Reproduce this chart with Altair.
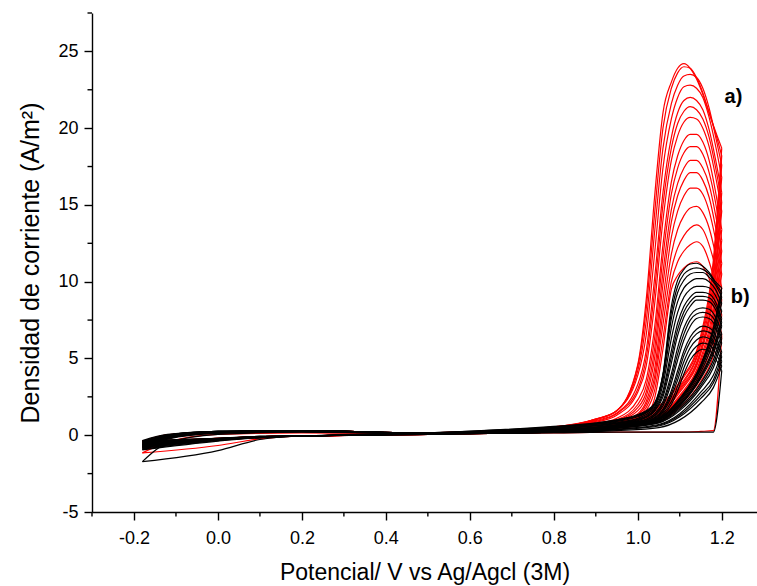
import altair as alt
import pandas as pd

# Potential grid (V vs Ag/AgCl) shared by every cycle: forward scan, then reverse scan
E_FWD = [-0.18, -0.12, 0.0, 0.2, 0.5, 0.8, 0.95, 1.05, 1.1, 1.15, 1.18, 1.2]
E_REV = [1.185, 1.17, 1.155, 1.14, 1.125, 1.11, 1.095, 1.08, 1.06, 1.04, 1.02, 1.0,
         0.95, 0.9, 0.8, 0.5, 0.2, 0.1, 0.0, -0.18]

# Series a) (red) - current density (A/m2), 12 forward values then 20 reverse values
RED_01 = [-1.15, -0.45, 0.05, 0.15, 0.1, 0.15, 0.2, 0.2, 0.2, 0.25, 0.3, 6.5,
          8.6, 10.2, 11.0, 11.3, 11.2, 10.9, 10.4, 9.5, 5.6, 2.4, 1.3, 0.9, 0.55, 0.4, 0.25, 0.05, -0.05, -0.24, -0.67, -1.15]
RED_02 = [-0.8, -0.2, 0.15, 0.2, 0.1, 0.2, 0.45, 0.9, 1.8, 3.5, 5.2, 7.8,
          9.8, 11.3, 12.3, 12.6, 12.4, 12.0, 11.3, 10.0, 6.3, 2.9, 1.6, 1.1, 0.65, 0.45, 0.3, 0.05, -0.05, -0.15, -0.3, -0.8]
RED_03 = [-0.7, -0.15, 0.15, 0.25, 0.1, 0.2, 0.5, 1.0, 2.0, 3.8, 5.8, 8.8,
          10.9, 12.4, 13.4, 13.7, 13.5, 13.0, 12.2, 10.8, 7.2, 3.4, 1.8, 1.2, 0.7, 0.5, 0.3, 0.05, -0.05, -0.15, -0.3, -0.7]
RED_04 = [-0.68, -0.12, 0.15, 0.25, 0.1, 0.2, 0.52, 1.05, 2.1, 4.0, 6.3, 9.6,
          11.8, 13.5, 14.5, 14.9, 14.8, 14.3, 13.4, 11.8, 8.0, 3.8, 2.0, 1.3, 0.75, 0.52, 0.32, 0.06, -0.05, -0.12, -0.3, -0.68]
RED_05 = [-0.65, -0.1, 0.15, 0.25, 0.1, 0.2, 0.55, 1.1, 2.2, 4.2, 6.8, 10.5,
          12.8, 14.6, 15.7, 16.1, 16.1, 15.6, 14.6, 12.9, 8.8, 4.3, 2.2, 1.4, 0.8, 0.55, 0.35, 0.08, -0.05, -0.1, -0.3, -0.65]
RED_06 = [-0.62, -0.1, 0.18, 0.25, 0.1, 0.22, 0.58, 1.15, 2.3, 4.4, 7.2, 11.2,
          13.6, 15.5, 16.6, 17.1, 17.1, 16.6, 15.6, 13.9, 9.8, 5.0, 2.5, 1.6, 0.9, 0.6, 0.38, 0.09, -0.05, -0.1, -0.28, -0.62]
RED_07 = [-0.6, -0.1, 0.2, 0.25, 0.1, 0.25, 0.6, 1.2, 2.4, 4.6, 7.6, 12.0,
          14.4, 16.3, 17.4, 17.9, 17.9, 17.4, 16.4, 14.7, 10.6, 5.6, 2.8, 1.8, 0.95, 0.65, 0.4, 0.1, -0.05, -0.1, -0.28, -0.6]
RED_08 = [-0.58, -0.08, 0.2, 0.28, 0.1, 0.25, 0.62, 1.25, 2.5, 4.8, 8.0, 12.7,
          15.2, 17.1, 18.3, 18.8, 18.8, 18.4, 17.4, 15.7, 11.6, 6.3, 3.2, 2.0, 1.0, 0.7, 0.42, 0.1, -0.05, -0.1, -0.26, -0.58]
RED_09 = [-0.55, -0.05, 0.2, 0.3, 0.1, 0.25, 0.65, 1.3, 2.6, 5.0, 8.4, 13.4,
          15.9, 17.9, 19.1, 19.6, 19.6, 19.2, 18.2, 16.5, 12.4, 7.0, 3.6, 2.3, 1.1, 0.75, 0.45, 0.1, -0.05, -0.1, -0.25, -0.55]
RED_10 = [-0.5, -0.05, 0.2, 0.3, 0.12, 0.25, 0.7, 1.4, 2.8, 5.3, 9.0, 14.6,
          16.9, 18.8, 20.0, 20.6, 20.7, 20.4, 19.5, 17.9, 14.0, 8.5, 4.5, 2.8, 1.3, 0.85, 0.5, 0.12, -0.05, -0.1, -0.25, -0.5]
RED_11 = [-0.5, -0.02, 0.2, 0.3, 0.12, 0.28, 0.72, 1.45, 2.9, 5.45, 9.3, 15.2,
          17.5, 19.4, 20.6, 21.2, 21.4, 21.1, 20.3, 18.7, 15.0, 9.4, 5.0, 3.0, 1.4, 0.9, 0.5, 0.12, -0.05, -0.1, -0.24, -0.5]
RED_12 = [-0.5, 0.0, 0.2, 0.3, 0.12, 0.3, 0.75, 1.5, 3.0, 5.6, 9.6, 15.8,
          18.0, 19.9, 21.2, 21.8, 22.0, 21.8, 21.0, 19.4, 15.8, 10.2, 5.5, 3.3, 1.45, 0.95, 0.5, 0.12, -0.05, -0.1, -0.22, -0.5]
RED_13 = [-0.45, 0.0, 0.2, 0.3, 0.12, 0.3, 0.8, 1.6, 3.1, 5.9, 10.1, 16.8,
          18.9, 20.7, 22.0, 22.6, 22.8, 22.7, 22.0, 20.6, 17.4, 11.8, 6.5, 3.9, 1.6, 1.0, 0.55, 0.13, -0.05, -0.1, -0.22, -0.45]
RED_14 = [-0.45, 0.0, 0.2, 0.3, 0.13, 0.3, 0.85, 1.7, 3.2, 6.1, 10.6, 17.6,
          19.5, 21.3, 22.6, 23.3, 23.5, 23.4, 22.8, 21.6, 18.7, 13.2, 7.4, 4.2, 1.6, 1.05, 0.55, 0.13, -0.05, -0.1, -0.2, -0.45]
RED_15 = [-0.4, 0.02, 0.2, 0.3, 0.13, 0.3, 0.9, 1.8, 3.4, 6.3, 11.0, 18.2,
          19.7, 21.0, 22.3, 23.3, 23.9, 24.0, 23.6, 22.6, 20.0, 14.4, 8.2, 4.5, 1.6, 1.05, 0.5, 0.14, -0.05, -0.1, -0.2, -0.4]
RED_16 = [-0.4, 0.03, 0.2, 0.3, 0.14, 0.3, 0.9, 1.9, 3.5, 6.5, 11.4, 18.7,
          19.8, 21.0, 22.2, 23.2, 23.9, 24.2, 23.9, 23.0, 21.0, 15.5, 8.8, 4.6, 1.6, 1.05, 0.5, 0.15, -0.05, -0.1, -0.2, -0.4]

# Series b) (black)
BLK_01 = [-1.72, -0.5, 0.05, 0.2, 0.1, 0.15, 0.2, 0.2, 0.2, 0.2, 0.2, 4.2,
          5.0, 5.5, 5.6, 5.4, 4.9, 4.0, 2.9, 2.0, 1.3, 0.95, 0.8, 0.7, 0.5, 0.4, 0.25, 0.05, -0.05, -0.28, -1.0, -1.72]
BLK_02 = [-0.95, -0.25, 0.12, 0.22, 0.1, 0.18, 0.3, 0.5, 1.0, 2.1, 3.1, 4.5,
          5.4, 5.9, 6.0, 5.8, 5.3, 4.4, 3.2, 2.2, 1.4, 1.0, 0.82, 0.72, 0.52, 0.4, 0.26, 0.06, -0.05, -0.15, -0.38, -0.95]
BLK_03 = [-0.9, -0.2, 0.15, 0.25, 0.1, 0.2, 0.35, 0.6, 1.2, 2.4, 3.4, 4.8,
          5.8, 6.3, 6.4, 6.2, 5.7, 4.8, 3.6, 2.5, 1.5, 1.05, 0.85, 0.75, 0.55, 0.42, 0.28, 0.07, -0.05, -0.15, -0.35, -0.9]
BLK_04 = [-0.85, -0.18, 0.18, 0.25, 0.1, 0.2, 0.38, 0.65, 1.3, 2.6, 3.6, 5.1,
          6.2, 6.7, 6.8, 6.6, 6.1, 5.2, 3.9, 2.7, 1.6, 1.1, 0.88, 0.78, 0.58, 0.44, 0.29, 0.08, -0.05, -0.15, -0.32, -0.85]
BLK_05 = [-0.8, -0.15, 0.2, 0.25, 0.1, 0.2, 0.4, 0.7, 1.4, 2.8, 3.9, 5.4,
          6.5, 7.0, 7.1, 6.9, 6.4, 5.5, 4.2, 2.9, 1.7, 1.15, 0.9, 0.8, 0.6, 0.45, 0.3, 0.08, -0.05, -0.15, -0.3, -0.8]
BLK_06 = [-0.75, -0.1, 0.2, 0.3, 0.12, 0.2, 0.45, 0.8, 1.6, 3.1, 4.4, 6.0,
          7.1, 7.6, 7.7, 7.6, 7.1, 6.2, 4.9, 3.4, 1.9, 1.25, 0.95, 0.85, 0.65, 0.5, 0.32, 0.08, -0.05, -0.12, -0.3, -0.75]
BLK_07 = [-0.72, -0.1, 0.2, 0.3, 0.12, 0.21, 0.48, 0.82, 1.7, 3.25, 4.65, 6.3,
          7.4, 7.9, 8.0, 7.9, 7.5, 6.6, 5.3, 3.7, 2.05, 1.3, 1.0, 0.88, 0.68, 0.52, 0.34, 0.09, -0.05, -0.12, -0.29, -0.72]
BLK_08 = [-0.7, -0.1, 0.2, 0.3, 0.12, 0.22, 0.5, 0.85, 1.8, 3.4, 4.9, 6.6,
          7.7, 8.2, 8.3, 8.2, 7.8, 7.0, 5.7, 4.0, 2.2, 1.4, 1.05, 0.9, 0.7, 0.55, 0.35, 0.1, -0.05, -0.12, -0.28, -0.7]
BLK_09 = [-0.65, -0.05, 0.22, 0.3, 0.12, 0.22, 0.5, 0.9, 1.9, 3.7, 5.3, 7.1,
          8.2, 8.7, 8.8, 8.8, 8.4, 7.7, 6.5, 4.7, 2.5, 1.55, 1.15, 0.95, 0.75, 0.6, 0.38, 0.1, -0.05, -0.12, -0.28, -0.65]
BLK_10 = [-0.62, -0.05, 0.22, 0.3, 0.12, 0.24, 0.52, 0.92, 1.95, 3.8, 5.5, 7.35,
          8.45, 8.95, 9.05, 9.05, 8.7, 8.05, 6.9, 5.1, 2.7, 1.6, 1.2, 1.0, 0.78, 0.62, 0.4, 0.11, -0.05, -0.11, -0.26, -0.62]
BLK_11 = [-0.6, -0.05, 0.22, 0.3, 0.13, 0.25, 0.55, 0.95, 2.0, 3.9, 5.7, 7.6,
          8.7, 9.2, 9.3, 9.3, 9.0, 8.4, 7.3, 5.5, 2.9, 1.7, 1.25, 1.05, 0.8, 0.65, 0.42, 0.12, -0.05, -0.1, -0.25, -0.6]
BLK_12 = [-0.55, 0.0, 0.25, 0.3, 0.13, 0.25, 0.55, 1.0, 2.1, 4.1, 6.1, 8.1,
          9.1, 9.6, 9.7, 9.7, 9.5, 9.0, 8.0, 6.3, 3.3, 1.8, 1.35, 1.1, 0.85, 0.7, 0.45, 0.12, -0.05, -0.1, -0.25, -0.55]
BLK_13 = [-0.5, 0.0, 0.25, 0.3, 0.14, 0.28, 0.6, 1.05, 2.2, 4.3, 6.4, 8.6,
          9.5, 10.0, 10.2, 10.2, 10.0, 9.6, 8.7, 7.0, 3.6, 1.9, 1.45, 1.2, 0.9, 0.72, 0.5, 0.13, -0.05, -0.1, -0.22, -0.5]
BLK_14 = [-0.45, 0.0, 0.25, 0.3, 0.14, 0.28, 0.6, 1.05, 2.3, 4.4, 6.7, 9.0,
          9.8, 10.3, 10.6, 10.6, 10.5, 10.1, 9.3, 7.6, 3.9, 2.0, 1.5, 1.25, 0.95, 0.75, 0.52, 0.14, -0.05, -0.08, -0.2, -0.45]
BLK_15 = [-0.4, 0.02, 0.25, 0.3, 0.15, 0.3, 0.6, 1.1, 2.35, 4.5, 6.9, 9.3,
          9.9, 10.5, 10.8, 10.9, 10.8, 10.5, 9.7, 8.0, 3.9, 2.0, 1.55, 1.3, 1.0, 0.78, 0.55, 0.15, -0.05, -0.08, -0.2, -0.4]
BLK_16 = [-0.35, 0.05, 0.25, 0.3, 0.15, 0.3, 0.6, 1.1, 2.4, 4.6, 7.0, 9.6,
          10.0, 10.6, 11.0, 11.2, 11.15, 10.8, 10.1, 8.4, 4.0, 2.1, 1.6, 1.35, 1.0, 0.8, 0.58, 0.15, -0.05, -0.08, -0.2, -0.35]

RED_CYCLES = [RED_01, RED_02, RED_03, RED_04, RED_05, RED_06, RED_07, RED_08,
              RED_09, RED_10, RED_11, RED_12, RED_13, RED_14, RED_15, RED_16]
BLK_CYCLES = [BLK_01, BLK_02, BLK_03, BLK_04, BLK_05, BLK_06, BLK_07, BLK_08,
              BLK_09, BLK_10, BLK_11, BLK_12, BLK_13, BLK_14, BLK_15, BLK_16]

X_TICKS = [-0.2, 0.0, 0.2, 0.4, 0.6, 0.8, 1.0, 1.2]
X_MINOR = [-0.3, -0.1, 0.1, 0.3, 0.5, 0.7, 0.9, 1.1]
Y_TICKS = [-5, 0, 5, 10, 15, 20, 25]
Y_MINOR = [-2.5, 2.5, 7.5, 12.5, 17.5, 22.5, 27.5]

W, H = 665, 499
FONT = "Liberation Sans"


def build(cycles, name):
    rows = []
    nf = len(E_FWD)
    for ci, vals in enumerate(cycles):
        fwd = list(zip(E_FWD, vals[:nf]))
        rev = [(E_FWD[-1], vals[nf - 1])] + list(zip(E_REV, vals[nf:]))
        for branch, pts in (("f", fwd), ("r", rev)):
            for k, (e, j) in enumerate(pts):
                rows.append({"E": e, "J": j, "seg": f"{name}{ci:02d}{branch}", "k": k})
    return pd.DataFrame(rows)


red_df = build(RED_CYCLES, "a")
blk_df = build(BLK_CYCLES, "b")

xscale = alt.Scale(domain=[-0.3, 1.284], nice=False, zero=False)
yscale = alt.Scale(domain=[-5, 27.5], nice=False, zero=False)

xaxis = alt.Axis(values=X_TICKS, title="Potencial/ V vs Ag/Agcl (3M)",
                 labelExpr="datum.value < 0 ? '-' + format(-datum.value, '.1f') : format(datum.value, '.1f')",
                 grid=False, tickSize=8, labelPadding=9, titlePadding=14)
yaxis = alt.Axis(values=Y_TICKS, title="Densidad de corriente (A/m²)",
                 labelExpr="datum.value < 0 ? '-' + format(-datum.value, 'd') : format(datum.value, 'd')",
                 grid=False, tickSize=8, labelPadding=6, titlePadding=14, titleFontSize=25)

LW = 1.2
red = alt.Chart(red_df).mark_line(color="#ff0000", strokeWidth=LW, interpolate="monotone").encode(
    x=alt.X("E:Q", scale=xscale, axis=xaxis),
    y=alt.Y("J:Q", scale=yscale, axis=yaxis),
    detail="seg:N",
    order="k:Q",
)
blk = alt.Chart(blk_df).mark_line(color="#000000", strokeWidth=LW, interpolate="monotone").encode(
    x=alt.X("E:Q", scale=xscale),
    y=alt.Y("J:Q", scale=yscale),
    detail="seg:N",
    order="k:Q",
)

xminor = alt.Chart(pd.DataFrame({"E": X_MINOR})).mark_rule(color="black", strokeWidth=1.4).encode(
    x=alt.X("E:Q", scale=xscale), y=alt.value(H), y2=alt.value(H + 4.5))
yminor = alt.Chart(pd.DataFrame({"J": Y_MINOR})).mark_rule(color="black", strokeWidth=1.4).encode(
    y=alt.Y("J:Q", scale=yscale), x=alt.value(0), x2=alt.value(-4.5))

lab_a = alt.Chart(pd.DataFrame({"t": ["a)"]})).mark_text(
    fontSize=20, fontWeight="bold", font=FONT, color="black", align="center", baseline="middle"
).encode(x=alt.datum(1.228, scale=xscale), y=alt.datum(22.0, scale=yscale), text="t:N")
lab_b = alt.Chart(pd.DataFrame({"t": ["b)"]})).mark_text(
    fontSize=20, fontWeight="bold", font=FONT, color="black", align="center", baseline="middle"
).encode(x=alt.datum(1.244, scale=xscale), y=alt.datum(9.0, scale=yscale), text="t:N")

chart = alt.layer(red, blk, xminor, yminor, lab_a, lab_b).properties(
    width=W, height=H,
    autosize=alt.AutoSizeParams(type="none"),
    padding={"left": 92, "top": 13, "right": 0, "bottom": 74},
).configure_view(stroke=None).configure_axis(
    labelFont=FONT, titleFont=FONT, labelFontSize=18, titleFontSize=23,
    titleFontWeight="normal", labelColor="black", titleColor="black",
    domainColor="black", tickColor="black", domainWidth=1.4, tickWidth=1.4,
)

chart.save("out.html", embed_options={"renderer": "svg", "actions": False})
